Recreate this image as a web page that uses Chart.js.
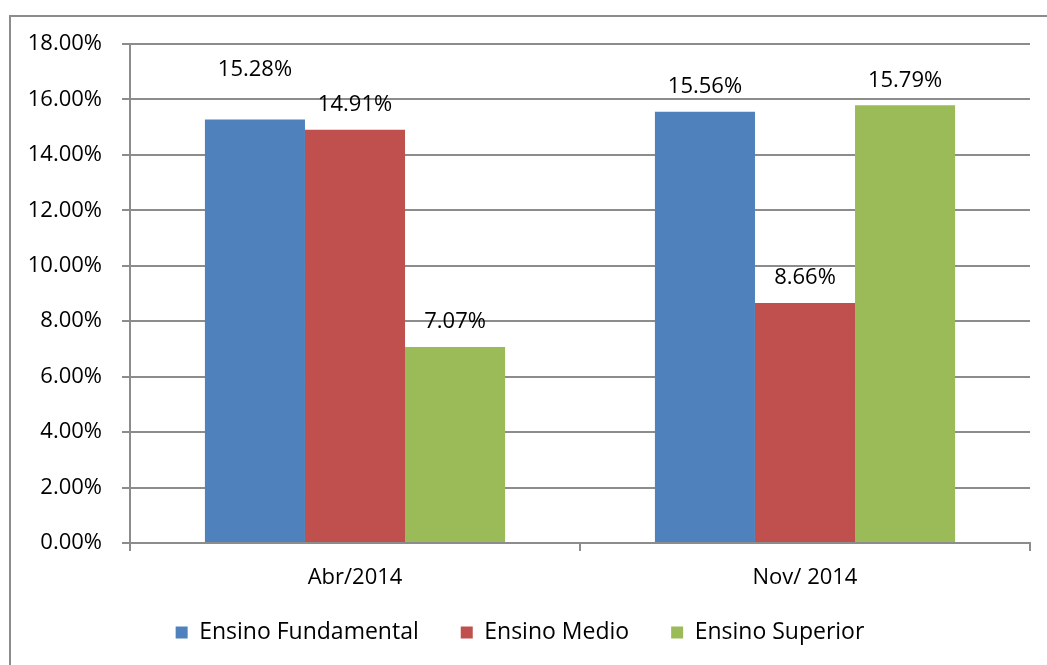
<!DOCTYPE html>
<html>
<head>
<meta charset="utf-8">
<script src="https://cdn.jsdelivr.net/npm/chart.js@4"></script>
<style>
  html, body { margin: 0; padding: 0; background: #fff; }
  #wrap { width: 1047px; height: 665px; }
</style>
</head>
<body>
<div id="wrap"><canvas id="barChart" width="1047" height="665"></canvas></div>
<script>
var categories = ['Abr/2014', 'Nov/ 2014'];
var seriesNames = ['Ensino Fundamental', 'Ensino Medio', 'Ensino Superior'];
var fundamental = [15.28, 15.56];
var medio = [14.91, 8.66];
var superior = [7.07, 15.79];
var colors = ['#4F81BD', '#C0504D', '#9BBB59'];

var fontFamily = '"Open Sans", Lato, sans-serif';

// frame around the whole chart, like the excel export
var framePlugin = {
    id: 'frame',
    beforeDraw: function(chart) {
        var c = chart.ctx;
        c.save();
        c.fillStyle = '#fff';
        c.fillRect(0, 0, chart.width, chart.height);
        c.strokeStyle = '#8c8c8c';
        c.lineWidth = 2;
        c.strokeRect(10, 16, chart.width + 20, chart.height + 20);
        c.restore();
    }
};

// legend padding is big for the gaps between items, pull it back up a bit
var legendNudge = {
    id: 'legendNudge',
    beforeLayout: function(chart) {
        var lg = chart.legend;
        if (lg && !lg._nudged) {
            var fit = lg.fit;
            lg.fit = function() { fit.call(this); this.height -= 15; };
            lg._nudged = true;
        }
    },
    afterLayout: function(chart) {
        chart.legend.top -= 15;
        chart.legend.height += 15;
    }
};

// value labels above each bar
var valueLabels = {
    id: 'valueLabels',
    afterDatasetsDraw: function(chart, args, opts) {
        var c = chart.ctx;
        c.save();
        c.font = '22px ' + fontFamily;
        c.fillStyle = '#000';
        c.textAlign = 'center';
        c.textBaseline = 'middle';
        chart.data.datasets.forEach(function(ds, i) {
            var meta = chart.getDatasetMeta(i);
            meta.data.forEach(function(bar, j) {
                var lift = (opts.lift[i] && opts.lift[i][j]) || 0;
                c.fillText(ds.data[j].toFixed(2) + '%', bar.x, bar.y - 25 - lift);
            });
        });
        c.restore();
    }
};

var ctx = document.getElementById('barChart').getContext('2d');
var barChart = new Chart(ctx, {
    type: 'bar',
    data: {
        labels: categories,
        datasets: [
            { label: seriesNames[0], data: fundamental, backgroundColor: colors[0] },
            { label: seriesNames[1], data: medio, backgroundColor: colors[1] },
            { label: seriesNames[2], data: superior, backgroundColor: colors[2] }
        ]
    },
    options: {
        responsive: false,
        animation: false,
        layout: { padding: { left: 10, right: 17, top: 44, bottom: 11 } },
        datasets: {
            bar: { categoryPercentage: 0.667, barPercentage: 1.0 }
        },
        plugins: {
            legend: {
                position: 'bottom',
                labels: {
                    font: { family: fontFamily, size: 23 },
                    color: '#000',
                    boxWidth: 12,
                    boxHeight: 12,
                    padding: 42
                }
            },
            tooltip: { enabled: false },
            valueLabels: { lift: [[25, 0], [0, 0], [0, 0]] }
        },
        scales: {
            x: {
                grid: { drawOnChartArea: false, drawTicks: true, tickLength: 8, color: '#8c8c8c', lineWidth: 2 },
                border: { color: '#8c8c8c', width: 2 },
                ticks: { font: { family: fontFamily, size: 22 }, color: '#000', padding: 14 },
                afterFit: function(scale) { scale.height = 51; }
            },
            y: {
                min: 0,
                max: 18,
                ticks: {
                    stepSize: 2,
                    font: { family: fontFamily, size: 22 },
                    color: '#000',
                    padding: 20,
                    callback: function(v) { return v.toFixed(2) + '%'; }
                },
                grid: { color: '#8c8c8c', lineWidth: 2, tickLength: 8 },
                border: { color: '#8c8c8c', width: 2 },
                afterFit: function(scale) { scale.width = 120; }
            }
        }
    },
    plugins: [framePlugin, legendNudge, valueLabels]
});
</script>
</body>
</html>
